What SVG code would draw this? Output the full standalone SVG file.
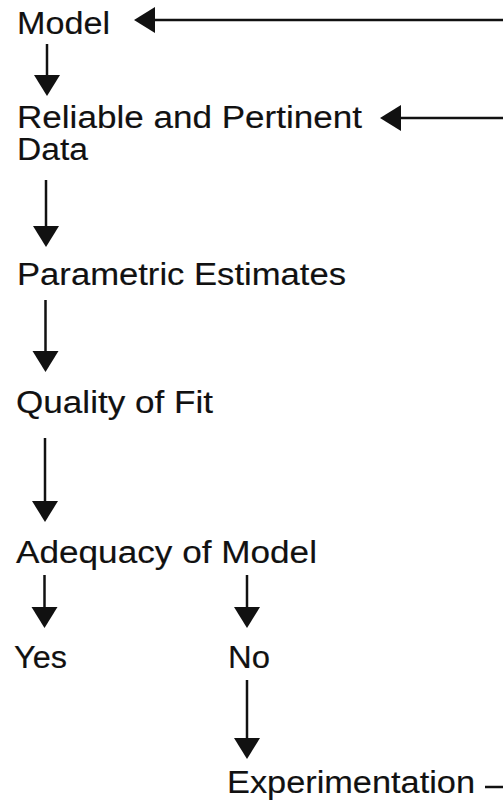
<svg xmlns="http://www.w3.org/2000/svg" width="503" height="803" viewBox="0 0 503 803">
<style>
.t{font-family:"Liberation Sans",Arial,sans-serif;font-size:31px;fill:#111;stroke:#111;stroke-width:0.15;}
.c{stroke:#111;stroke-width:2.5;fill:none;marker-end:url(#ah);}
</style>
<defs>
<marker id="ah" markerUnits="userSpaceOnUse" markerWidth="22" markerHeight="27" refX="0" refY="13" orient="auto" overflow="visible">
<path d="M0,0 L21,13 L0,26 Z" fill="#111"/>
</marker>
</defs>
<rect width="503" height="803" fill="#fff"/>
<g id="connectors">
<line class="c" x1="47" y1="44" x2="47" y2="75"/>
<line class="c" x1="46" y1="180" x2="46" y2="226"/>
<line class="c" x1="45.5" y1="300" x2="45.5" y2="351"/>
<line class="c" x1="45" y1="438" x2="45" y2="501"/>
<line class="c" x1="44.5" y1="575" x2="44.5" y2="607"/>
<line class="c" x1="247" y1="575" x2="247" y2="607"/>
<line class="c" x1="247" y1="680" x2="247" y2="738"/>
<line class="c" x1="503" y1="20" x2="155" y2="20"/>
<line class="c" x1="503" y1="118" x2="401" y2="118"/>
<line stroke="#111" stroke-width="2.5" x1="485" y1="787" x2="503" y2="787"/>
</g>
<g id="model"><text class="t" x="17" y="34" textLength="93" lengthAdjust="spacingAndGlyphs">Model</text></g>
<g id="data"><text class="t" x="17" y="128" textLength="345" lengthAdjust="spacingAndGlyphs">Reliable and Pertinent</text><text class="t" x="17" y="160" textLength="71" lengthAdjust="spacingAndGlyphs">Data</text></g>
<g id="estimates"><text class="t" x="17" y="285" textLength="329" lengthAdjust="spacingAndGlyphs">Parametric Estimates</text></g>
<g id="fit"><text class="t" x="16" y="413" textLength="197" lengthAdjust="spacingAndGlyphs">Quality of Fit</text></g>
<g id="adequacy"><text class="t" x="16" y="563" textLength="301" lengthAdjust="spacingAndGlyphs">Adequacy of Model</text></g>
<g id="yes"><text class="t" x="14" y="668" textLength="53" lengthAdjust="spacingAndGlyphs">Yes</text></g>
<g id="no"><text class="t" x="228" y="668" textLength="42" lengthAdjust="spacingAndGlyphs">No</text></g>
<g id="experimentation"><text class="t" x="227" y="793" textLength="248" lengthAdjust="spacingAndGlyphs">Experimentation</text></g>
</svg>
